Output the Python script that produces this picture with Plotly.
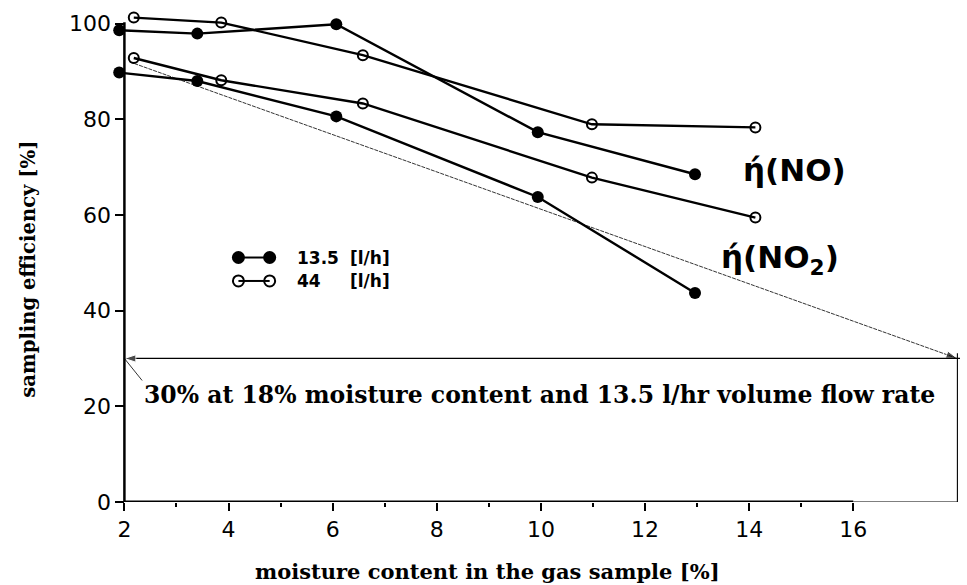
import plotly.graph_objects as go

# Moisture content [%] and sampling efficiency [%] for each gas and flow rate
x_no_135 = [1.9, 3.4, 6.07, 9.94, 12.96]
y_no_135 = [98.6, 97.9, 99.85, 77.3, 68.5]

x_no_44 = [2.18, 3.86, 6.58, 10.98, 14.12]
y_no_44 = [101.25, 100.2, 93.4, 78.95, 78.3]

x_no2_135 = [1.9, 3.4, 6.07, 9.94, 12.96]
y_no2_135 = [89.75, 88.0, 80.6, 63.75, 43.7]

x_no2_44 = [2.18, 3.86, 6.58, 10.98, 14.12]
y_no2_44 = [92.8, 88.15, 83.3, 67.8, 59.45]

# Extrapolated trend for 13.5 l/h: 30 % efficiency at 18 % moisture
trend_x = [2.1, 18.0]
trend_y = [92.0, 30.0]
limit_moisture = 18.0
limit_efficiency = 30.0

x_ticks = [2, 4, 6, 8, 10, 12, 14, 16]
x_minor = [3, 5, 7, 9, 11, 13, 15]
y_ticks = [0, 20, 40, 60, 80, 100]

flow_labels = ["13.5", "44"]

X0, X1 = 1.8, 18.05
Y0, Y1 = 0, 102
SERIF = "DejaVu Serif"
SANS = "DejaVu Sans"

fig = go.Figure()

solid = dict(symbol="circle", size=12, color="black")
hollow = dict(symbol="circle-open", size=10, color="black", line=dict(width=2))


def add_series(xs, ys, marker):
    fig.add_trace(go.Scatter(
        x=xs, y=ys, mode="lines+markers",
        line=dict(color="black", width=2.4),
        marker=marker, cliponaxis=False, showlegend=False, hoverinfo="skip",
    ))


add_series(x_no_135, y_no_135, solid)
add_series(x_no_44, y_no_44, hollow)
add_series(x_no2_135, y_no2_135, solid)
add_series(x_no2_44, y_no2_44, hollow)

# thin trend line towards the 18 % point, ending in an arrow head
fig.add_trace(go.Scatter(
    x=trend_x, y=trend_y, mode="lines",
    line=dict(color="black", width=0.8, dash="4px,1px"),
    showlegend=False, hoverinfo="skip",
))
fig.add_trace(go.Scatter(
    x=trend_x, y=trend_y, mode="markers",
    marker=dict(symbol="arrow", angleref="previous", size=[0, 12], color="black"),
    cliponaxis=False, showlegend=False, hoverinfo="skip",
))

# horizontal 30 % line with arrow head at the efficiency axis
fig.add_trace(go.Scatter(
    x=[18.16, 2.0], y=[limit_efficiency, limit_efficiency], mode="lines+markers",
    line=dict(color="black", width=1.3),
    marker=dict(symbol="arrow", angleref="previous", size=[0, 12], color="black"),
    cliponaxis=False, showlegend=False, hoverinfo="skip",
))

# key: two joined markers per flow rate
key_x = [4.19, 4.79]
key_y = [51.1, 46.2]
key_markers = [dict(symbol="circle", size=13, color="black"),
               dict(symbol="circle-open", size=11, color="black", line=dict(width=2))]
for yk, mk in zip(key_y, key_markers):
    fig.add_trace(go.Scatter(
        x=key_x, y=[yk, yk], mode="lines+markers",
        line=dict(color="black", width=2), marker=mk,
        showlegend=False, hoverinfo="skip",
    ))

key_font = dict(family=SANS, size=17, color="black", weight="bold")
annotations = []
for yk, lab in zip(key_y, flow_labels):
    annotations.append(dict(x=5.28, y=yk, xref="x", yref="y", text=lab,
                            showarrow=False, xanchor="left", yanchor="middle",
                            font=key_font))
    annotations.append(dict(x=6.3, y=yk, xref="x", yref="y", text="[l/h]",
                            showarrow=False, xanchor="left", yanchor="middle",
                            font=key_font))

# gas labels
gas_font = dict(family=SANS, size=31, color="black", weight="bold")
annotations.append(dict(x=13.84, y=69.3, xref="x", yref="y", text="ή(NO)",
                        showarrow=False, xanchor="left", yanchor="middle",
                        font=gas_font))
annotations.append(dict(x=13.42, y=50.6, xref="x", yref="y", text="ή(NO<sub>2</sub>)",
                        showarrow=False, xanchor="left", yanchor="middle",
                        font=gas_font))

annotations.append(dict(x=2.33, y=22.3, xref="x", yref="y",
                        text="30% at 18% moisture content and 13.5 l/hr volume flow rate",
                        showarrow=False, xanchor="left", yanchor="middle",
                        font=dict(family=SERIF, size=23.5, color="black", weight="bold")))

# axis titles
annotations.append(dict(x=-0.117, y=0.477, xref="paper", yref="paper",
                        text="sampling efficiency [%]", textangle=-90, showarrow=False,
                        font=dict(family=SERIF, size=19.6, color="black", weight="bold")))
annotations.append(dict(x=0.442, y=-0.173, xref="paper", yref="paper",
                        text="moisture content in the gas sample [%]", showarrow=False,
                        font=dict(family=SERIF, size=21, color="black", weight="bold")))

shapes = [
    # left axis
    dict(type="line", xref="x", yref="y", x0=2, x1=2, y0=0, y1=100.3,
         line=dict(color="black", width=2.5)),
    # bottom axis, heavy to 16, light to 18
    dict(type="line", xref="x", yref="y", x0=2, x1=16, y0=0, y1=0,
         line=dict(color="black", width=2.8)),
    dict(type="line", xref="x", yref="y", x0=16, x1=limit_moisture, y0=0, y1=0,
         line=dict(color="black", width=1.2)),
    # right boundary at 18 % moisture
    dict(type="line", xref="x", yref="y", x0=limit_moisture, x1=limit_moisture, y0=0, y1=31.1,
         line=dict(color="black", width=1.1)),
    # leader from the 30 % arrow to its caption
    dict(type="line", xref="x", yref="y", x0=2.0, x1=2.34, y0=limit_efficiency, y1=25.4,
         line=dict(color="black", width=0.8)),
]

fig.update_layout(
    width=967, height=585,
    margin=dict(l=114, r=7, t=14, b=83, autoexpand=False),
    paper_bgcolor="white", plot_bgcolor="white",
    showlegend=False,
    annotations=annotations,
    shapes=shapes,
    xaxis=dict(
        range=[X0, X1], showgrid=False, zeroline=False, showline=False,
        tickmode="array", tickvals=x_ticks, ticktext=[str(v) for v in x_ticks],
        ticks="outside", ticklen=8, tickwidth=2, tickcolor="black",
        tickfont=dict(family=SANS, size=22, color="black"),
        minor=dict(tickmode="array", tickvals=x_minor, ticks="outside",
                   ticklen=4, tickwidth=1.5, tickcolor="black", showgrid=False),
        fixedrange=True,
    ),
    yaxis=dict(
        range=[Y0, Y1], showgrid=False, zeroline=False, showline=False,
        anchor="free", position=(2 - X0) / (X1 - X0),
        tickmode="array", tickvals=y_ticks,
        ticks="outside", ticklen=9, tickwidth=2, tickcolor="black",
        tickfont=dict(family=SANS, size=22, color="black"),
        fixedrange=True,
    ),
)

fig.write_html("out.html")
